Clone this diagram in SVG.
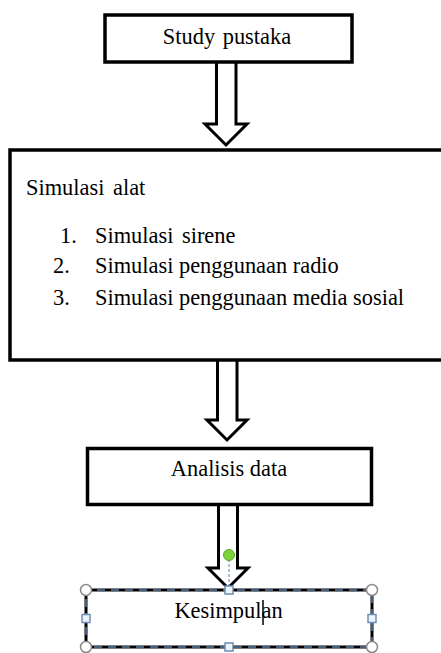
<svg xmlns="http://www.w3.org/2000/svg" width="441" height="653" viewBox="0 0 441 653">
<style>
.box{fill:#fff;stroke:#000;stroke-width:3.5}
.arr{fill:#fff;stroke:#000;stroke-width:3;stroke-linejoin:miter}
.t{font-family:"Liberation Serif","Times New Roman","DejaVu Serif",serif;font-size:22.4px;fill:#000}
.c{text-anchor:middle}
.hc{fill:#fff;stroke:#8a8a8a;stroke-width:1.5}
.hs{fill:#eef3fa;stroke:#6f8fb5;stroke-width:1.5}
</style>
<rect width="441" height="653" fill="#fff"/>
<g id="connectors">
<path class="arr" d="M216.5,62 V124 H205 L226,145 L247,124 H236 V62"/>
<path class="arr" d="M217.5,360 V420 H207 L227,440 L247,420 H237 V360"/>
<path class="arr" d="M218.5,505 V568 H208 L228,588 L248,568 H237.5 V505"/>
</g>
<g id="study">
<rect class="box" x="105" y="15" width="247" height="47"/>
<text class="t c" x="227" y="44" word-spacing="2">Study pustaka</text>
</g>
<g id="simulasi">
<rect class="box" x="10" y="150" width="440" height="210"/>
<text class="t" x="26" y="195" word-spacing="3">Simulasi alat</text>
<text class="t" x="60" y="243">1.</text>
<text class="t" x="95" y="243" word-spacing="3">Simulasi sirene</text>
<text class="t" x="53" y="273">2.</text>
<text class="t" x="95" y="273">Simulasi penggunaan radio</text>
<text class="t" x="53" y="305">3.</text>
<text class="t" x="95" y="305">Simulasi penggunaan media sosial</text>
</g>
<g id="analisis">
<rect class="box" x="87.5" y="448.5" width="284" height="56"/>
<text class="t c" x="229" y="476">Analisis data</text>
</g>
<g id="kesimpulan">
<rect x="86" y="590" width="286" height="57" fill="#fff" stroke="#000" stroke-width="3"/>
<rect x="86" y="590" width="286" height="57" fill="none" stroke="#5b7fa8" stroke-width="1.5" stroke-dasharray="8,6" stroke-dashoffset="3"/>
<text class="t c" x="228.5" y="618">Kesimpulan</text>
<line x1="263" y1="600" x2="263" y2="625" stroke="#000" stroke-width="1.5"/>
<line x1="229" y1="559" x2="229" y2="587" stroke="#5b7fa8" stroke-width="1" stroke-dasharray="3,2"/>
<circle cx="229" cy="555" r="5.5" fill="#7ed23a" stroke="#5aa82a" stroke-width="1"/>
<circle class="hc" cx="86" cy="590" r="5.5"/>
<circle class="hc" cx="372" cy="590" r="5.5"/>
<circle class="hc" cx="86" cy="647" r="5.5"/>
<circle class="hc" cx="372" cy="647" r="5.5"/>
<rect class="hs" x="225" y="586" width="8" height="8"/>
<rect class="hs" x="225" y="643" width="8" height="8"/>
<rect class="hs" x="82" y="614.5" width="8" height="8"/>
<rect class="hs" x="368" y="614.5" width="8" height="8"/>
</g>
</svg>
